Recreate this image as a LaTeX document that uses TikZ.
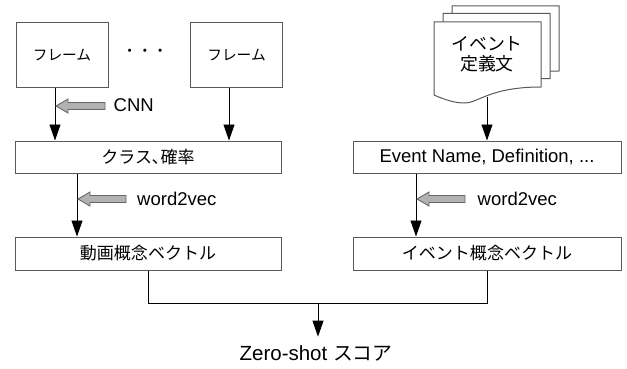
\documentclass[tikz,border=0pt]{standalone}
\usepackage{fontspec}
\setmainfont{Liberation Sans}
\newfontfamily\jp{Noto Sans CJK JP}[Scale=0.92]
\usetikzlibrary{arrows.meta}

\tikzset{
  box/.style={draw=black!65, line width=1pt, fill=white, inner sep=0pt,
    font=\fontsize{18.5}{22}\selectfont},
  flow/.style={draw=black, line width=0.9pt, -{Triangle[length=16pt,width=11pt]}},
  link/.style={draw=black, line width=0.9pt},
  tag/.style={inner sep=0pt, anchor=base west, font=\fontsize{18.5}{22}\selectfont},
  hint/.style={draw=black!60, fill=black!30, line width=0.9pt, line join=miter},
  sheet/.style={draw=black!65, line width=1pt, fill=white, line join=miter},
}

% grey block arrow pointing left: tip point, shaft length (pt)
\newcommand\hintarrow[2]{%
  \path[hint] (#1) -- ++(12pt,7pt) -- ++(0,-3.5pt) -- ++(#2,0) -- ++(0,-7pt)
    -- ++(-#2,0) -- ++(0,-3.5pt) -- cycle;}

% one sheet of the document stack
\newcommand\docsheet{%
  \path[sheet] (434,22) -- (541,22) -- (541,87)
    .. controls (490,87) and (478,103) .. (465,103)
    .. controls (456,103) and (448,101) .. (434,95) -- cycle;}

\begin{document}
\begin{tikzpicture}[x=1pt, y=-1pt]
\useasboundingbox (0,0) rectangle (627,369);

% left column: frames -> classes -> video concept vector
\node[box, minimum width=92pt, minimum height=65pt, font=\fontsize{16}{19}\selectfont]
  (f1) at (62,55.5) {\jp フレーム};
\node[box, minimum width=92pt, minimum height=65pt, font=\fontsize{16}{19}\selectfont]
  (f2) at (236.5,55.5) {\jp フレーム};
\node[inner sep=0pt, font=\fontsize{16.5}{19}\selectfont] (dots) at (145,53) {\jp ・・・};

\node[box, minimum width=266pt, minimum height=32pt] (cls) at (148,157) {\jp クラス､確率};
\node[box, minimum width=266pt, minimum height=33pt] (vid) at (148,253.5) {\jp 動画概念ベクトル};

\draw[flow] ([xshift=-7pt]f1.south) -- ([xshift=-7pt]f1.south |- cls.north);
\draw[flow] ([xshift=-7.5pt]f2.south) -- ([xshift=-7.5pt]f2.south |- cls.north);
\draw[flow] ([xshift=-71pt]cls.south) -- ([xshift=-71pt]vid.north);

\node[tag] (cnn) at (113.5,111) {CNN};
\hintarrow{56,106}{37pt}
\node[tag] (w2vl) at (137,205.3) {word2vec};
\hintarrow{78,199}{36pt}

% right column: event definitions -> text -> event concept vector
\begin{scope}[shift={(18,-16)}]\docsheet\end{scope}
\begin{scope}[shift={(9,-8.5)}]\docsheet\end{scope}
\docsheet
\node[inner sep=0pt, align=center, font=\fontsize{19.5}{20}\selectfont]
  (doc) at (487,54) {\jp イベント\\\jp 定義文};
\coordinate (docbot) at (487,97);

\node[box, minimum width=268pt, minimum height=32pt] (evt) at (487,157)
  {Event Name, Definition, ...};
\node[box, minimum width=268pt, minimum height=33pt] (evv) at (487,253.5)
  {\jp イベント概念ベクトル};

\draw[flow] (docbot) -- (evt.north);
\draw[flow] ([xshift=-71pt]evt.south) -- ([xshift=-71pt]evv.north);

\node[tag] (w2vr) at (477.5,205.3) {word2vec};
\hintarrow{417,199}{36pt}

% merge into the score
\coordinate (join) at (318,303);
\node[inner sep=0pt, anchor=base, font=\fontsize{20.5}{24}\selectfont] (zero) at (316,360.7)
  {Zero-shot {\fontsize{21.5}{24}\jp スコア}};
\draw[link] (vid.south) |- (join);
\draw[link] (evv.south) |- (join);
\draw[flow] (join) -- ([yshift=9pt]join |- zero.north);
\end{tikzpicture}
\end{document}
